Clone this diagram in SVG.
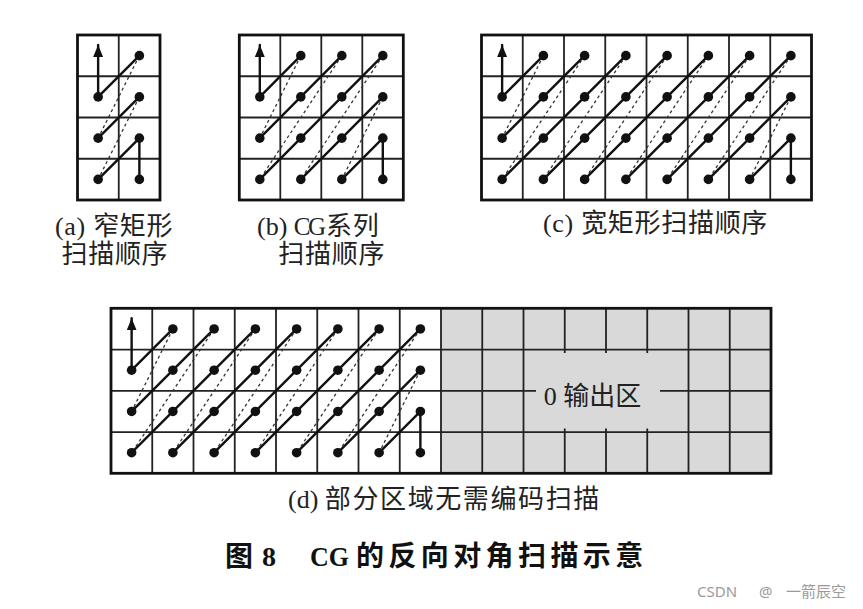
<svg xmlns="http://www.w3.org/2000/svg" xmlns:xlink="http://www.w3.org/1999/xlink" width="863" height="609" viewBox="0 0 863 609">
<style>
.grid{stroke:#222;stroke-width:1.8;fill:none}
.frame{stroke:#111;stroke-width:2.8;fill:none}
.scan{stroke:#111;stroke-width:2.4;fill:none;stroke-linecap:round}
.jump{stroke:#333;stroke-width:1.3;stroke-dasharray:3 3;fill:none}
.dot{fill:#111}
.lbl{font-family:"Liberation Serif","Noto Sans CJK SC",serif;font-size:26px;fill:#222}
.ttl{font-family:"Liberation Serif","Noto Sans CJK SC",serif;font-size:28px;font-weight:bold;fill:#111}
.wm{font-family:"Noto Sans","Noto Sans CJK SC",sans-serif;font-size:15px;fill:#9a9a9a}
</style>
<defs>
<marker id="ah" viewBox="0 0 12 10" markerWidth="12" markerHeight="10" refX="12" refY="5" orient="auto" markerUnits="userSpaceOnUse">
<path d="M0,0 L12,5 L0,10 z" fill="#111"/>
</marker>
<g id="scan8">
<line class="scan" x1="20.63" y1="61.88" x2="20.63" y2="10" marker-end="url(#ah)"/>
<path class="scan" d="M20.63,61.88 L61.88,20.63 M20.63,103.13 L103.13,20.63 M20.63,144.38 L144.38,20.63 M61.88,144.38 L185.63,20.63 M103.13,144.38 L226.88,20.63 M144.38,144.38 L268.13,20.63 M185.63,144.38 L309.38,20.63 M226.88,144.38 L309.38,61.88 M268.13,144.38 L309.38,103.13 L309.38,144.38"/>
<path class="jump" d="M61.88,20.63 L20.63,103.13 M103.13,20.63 L20.63,144.38 M144.38,20.63 L61.88,144.38 M185.63,20.63 L103.13,144.38 M226.88,20.63 L144.38,144.38 M268.13,20.63 L185.63,144.38 M309.38,20.63 L226.88,144.38 M309.38,61.88 L268.13,144.38"/>
<g class="dot">
<circle cx="61.88" cy="20.63" r="4.8"/><circle cx="103.13" cy="20.63" r="4.8"/><circle cx="144.38" cy="20.63" r="4.8"/><circle cx="185.63" cy="20.63" r="4.8"/><circle cx="226.88" cy="20.63" r="4.8"/><circle cx="268.13" cy="20.63" r="4.8"/><circle cx="309.38" cy="20.63" r="4.8"/>
<circle cx="20.63" cy="61.88" r="4.8"/><circle cx="61.88" cy="61.88" r="4.8"/><circle cx="103.13" cy="61.88" r="4.8"/><circle cx="144.38" cy="61.88" r="4.8"/><circle cx="185.63" cy="61.88" r="4.8"/><circle cx="226.88" cy="61.88" r="4.8"/><circle cx="268.13" cy="61.88" r="4.8"/><circle cx="309.38" cy="61.88" r="4.8"/>
<circle cx="20.63" cy="103.13" r="4.8"/><circle cx="61.88" cy="103.13" r="4.8"/><circle cx="103.13" cy="103.13" r="4.8"/><circle cx="144.38" cy="103.13" r="4.8"/><circle cx="185.63" cy="103.13" r="4.8"/><circle cx="226.88" cy="103.13" r="4.8"/><circle cx="268.13" cy="103.13" r="4.8"/><circle cx="309.38" cy="103.13" r="4.8"/>
<circle cx="20.63" cy="144.38" r="4.8"/><circle cx="61.88" cy="144.38" r="4.8"/><circle cx="103.13" cy="144.38" r="4.8"/><circle cx="144.38" cy="144.38" r="4.8"/><circle cx="185.63" cy="144.38" r="4.8"/><circle cx="226.88" cy="144.38" r="4.8"/><circle cx="268.13" cy="144.38" r="4.8"/><circle cx="309.38" cy="144.38" r="4.8"/>
</g>
</g>
<path id="grid8" class="grid" d="M41.25,0V165M82.5,0V165M123.75,0V165M165,0V165M206.25,0V165M247.5,0V165M288.75,0V165M0,41.25H330M0,82.5H330M0,123.75H330"/>
</defs>
<rect width="863" height="609" fill="#fff"/>

<g id="panel-a" transform="translate(77.5,35)">
<path class="grid" d="M41.25,0V165M0,41.25H82.5M0,82.5H82.5M0,123.75H82.5"/>
<rect class="frame" x="0" y="0" width="82.5" height="165"/>
<g id="conn-a">
<line class="scan" x1="20.63" y1="61.88" x2="20.63" y2="10" marker-end="url(#ah)"/>
<path class="scan" d="M20.63,61.88 L61.88,20.63 M20.63,103.13 L61.88,61.88 M20.63,144.38 L61.88,103.13 L61.88,144.38"/>
<path class="jump" d="M61.88,20.63 L20.63,103.13 M61.88,61.88 L20.63,144.38"/>
</g>
<g class="dot">
<circle cx="61.88" cy="20.63" r="4.8"/><circle cx="20.63" cy="61.88" r="4.8"/><circle cx="61.88" cy="61.88" r="4.8"/><circle cx="20.63" cy="103.13" r="4.8"/><circle cx="61.88" cy="103.13" r="4.8"/><circle cx="20.63" cy="144.38" r="4.8"/><circle cx="61.88" cy="144.38" r="4.8"/>
</g>
</g>

<g id="panel-b" transform="translate(239.3,35) scale(0.994,1)">
<path class="grid" d="M41.25,0V165M82.5,0V165M123.75,0V165M0,41.25H165M0,82.5H165M0,123.75H165"/>
<rect class="frame" x="0" y="0" width="165" height="165"/>
<g id="conn-b">
<line class="scan" x1="20.63" y1="61.88" x2="20.63" y2="10" marker-end="url(#ah)"/>
<path class="scan" d="M20.63,61.88 L61.88,20.63 M20.63,103.13 L103.13,20.63 M20.63,144.38 L144.38,20.63 M61.88,144.38 L144.38,61.88 M103.13,144.38 L144.38,103.13 L144.38,144.38"/>
<path class="jump" d="M61.88,20.63 L20.63,103.13 M103.13,20.63 L20.63,144.38 M144.38,20.63 L61.88,144.38 M144.38,61.88 L103.13,144.38"/>
</g>
<g class="dot">
<circle cx="61.88" cy="20.63" r="4.8"/><circle cx="103.13" cy="20.63" r="4.8"/><circle cx="144.38" cy="20.63" r="4.8"/>
<circle cx="20.63" cy="61.88" r="4.8"/><circle cx="61.88" cy="61.88" r="4.8"/><circle cx="103.13" cy="61.88" r="4.8"/><circle cx="144.38" cy="61.88" r="4.8"/>
<circle cx="20.63" cy="103.13" r="4.8"/><circle cx="61.88" cy="103.13" r="4.8"/><circle cx="103.13" cy="103.13" r="4.8"/><circle cx="144.38" cy="103.13" r="4.8"/>
<circle cx="20.63" cy="144.38" r="4.8"/><circle cx="61.88" cy="144.38" r="4.8"/><circle cx="103.13" cy="144.38" r="4.8"/><circle cx="144.38" cy="144.38" r="4.8"/>
</g>
</g>

<g id="panel-c" transform="translate(481.5,35)">
<use xlink:href="#grid8"/>
<rect class="frame" x="0" y="0" width="330" height="165"/>
<use id="conn-c" xlink:href="#scan8"/>
</g>

<g id="panel-d" transform="translate(111,308.3)">
<rect x="330" y="0" width="330" height="165" fill="#d9d9d9"/>
<use xlink:href="#grid8"/>
<path class="grid" d="M330,0V165M371.25,0V165M412.5,0V165M577.5,0V165M618.75,0V165M453.75,0V44.75M495,0V44.75M536.25,0V44.75M453.75,120.25V165M495,120.25V165M536.25,120.25V165M330,41.25H660M330,123.75H660M330,82.5H425M549,82.5H660"/>
<rect class="frame" x="0" y="0" width="660" height="165"/>
<use id="conn-d" xlink:href="#scan8"/>
<text class="lbl" x="481.5" y="96.7" text-anchor="middle">0 输出区</text>
</g>

<g id="labels">
<text class="lbl" x="55" y="235" letter-spacing="0.7">(a) 窄矩形</text>
<text class="lbl" x="61.5" y="262.5" letter-spacing="0.7">扫描顺序</text>
<text class="lbl" x="257" y="235">(b) <tspan font-size="25" letter-spacing="-2.5">CG</tspan><tspan dx="2.5" letter-spacing="0.7">系列</tspan></text>
<text class="lbl" x="278.3" y="262.5" letter-spacing="0.7">扫描顺序</text>
<text class="lbl" x="543" y="232" letter-spacing="0.7">(c) 宽矩形扫描顺序</text>
<text class="lbl" x="288" y="508">(d) <tspan letter-spacing="1.6">部分区域无需编码扫描</tspan></text>
</g>

<g id="title">
<text class="ttl" x="225" y="566">图</text>
<text class="ttl" x="262" y="566">8</text>
<text class="ttl" x="310" y="566" textLength="39" lengthAdjust="spacingAndGlyphs">CG</text>
<text class="ttl" x="356" y="566" letter-spacing="4.4">的反向对角扫描示意</text>
</g>

<g id="watermark">
<text class="wm" x="697" y="597">CSDN</text>
<text class="wm" x="759" y="597" font-size="17">@</text>
<text class="wm" x="786" y="597">一箭辰空</text>
</g>
</svg>
